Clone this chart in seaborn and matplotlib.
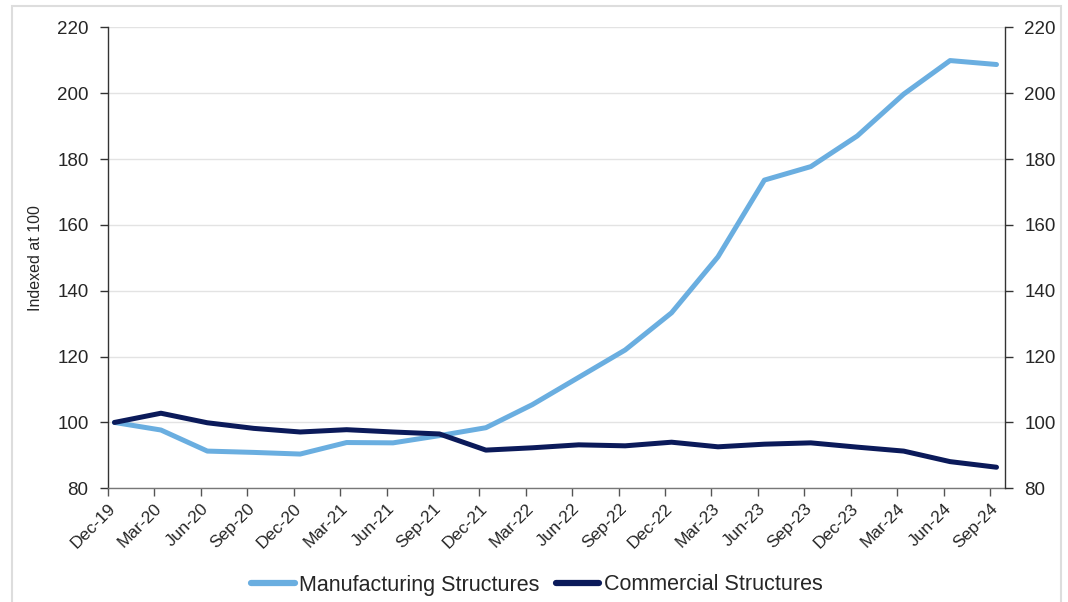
import numpy as np
import pandas as pd
import matplotlib
matplotlib.use("Agg")
import matplotlib.pyplot as plt
import matplotlib.patches as mpatches
import matplotlib.transforms as mtransforms
import seaborn as sns

quarters = ["Dec-19", "Mar-20", "Jun-20", "Sep-20", "Dec-20", "Mar-21", "Jun-21", "Sep-21",
            "Dec-21", "Mar-22", "Jun-22", "Sep-22", "Dec-22", "Mar-23", "Jun-23", "Sep-23",
            "Dec-23", "Mar-24", "Jun-24", "Sep-24"]
manufacturing = [100.0, 97.7, 91.3, 90.9, 90.4, 93.9, 93.8, 96.0, 98.4, 105.4,
                 113.7, 122.0, 133.3, 150.3, 173.6, 177.7, 187.0, 199.7, 209.9, 208.7]
commercial = [100.0, 102.8, 99.9, 98.2, 97.1, 97.8, 97.1, 96.5, 91.6, 92.3,
              93.2, 92.9, 94.0, 92.6, 93.4, 93.8, 92.5, 91.3, 88.1, 86.4]
series_names = ["Manufacturing Structures", "Commercial Structures"]
y_ticks = [80, 100, 120, 140, 160, 180, 200, 220]

colors = {"Manufacturing Structures": "#6aaee0", "Commercial Structures": "#0b1a5a"}

sns.set_theme(style="white")
plt.rcParams['font.family'] = ['Liberation Sans', 'DejaVu Sans']

n = len(quarters)
offset = 0.14
df = pd.DataFrame({
    "x": list(np.arange(n) + offset) * 2,
    "value": manufacturing + commercial,
    "series": [series_names[0]] * n + [series_names[1]] * n,
})

fig = plt.figure(figsize=(10.68, 6.02), dpi=100)
ax = fig.add_axes([108 / 1068, 1 - 488.3 / 602, (1005 - 108) / 1068, (488.3 - 27.3) / 602])

sns.lineplot(data=df, x="x", y="value", hue="series", palette=colors, linewidth=3.6,
             ax=ax, legend=False, solid_capstyle="round")

ax2 = ax.twinx()

xmax = (n - 1) * (1005 - 108) / (990 - 108)
ax.set_xlim(0, xmax)
ax.set_ylim(80, 220)
ax.set_yticks(y_ticks)
ax.set_xticks(np.arange(n))
ax.set_xticklabels(quarters, rotation=45, ha="right", rotation_mode="anchor", fontsize=12.5)
shift = mtransforms.ScaledTranslation(12 / 100, 0, fig.dpi_scale_trans)
for lbl in ax.get_xticklabels():
    lbl.set_transform(lbl.get_transform() + shift)
ax.tick_params(axis="x", length=6, width=1, color="#555555", pad=3, direction="out", bottom=True)
ax.tick_params(axis="y", labelsize=13.5, length=6, width=1, color="#333333", left=True, pad=8)
ax.grid(axis="y", color="#e3e3e3", linewidth=1)
ax.set_axisbelow(True)
ax.set_xlabel("")
ax.set_ylabel("Indexed at 100", fontsize=11.5, labelpad=10)
for s in ["top", "right"]:
    ax.spines[s].set_visible(False)
ax.spines["left"].set_color("#333333")
ax.spines["bottom"].set_color("#777777")
ax.spines["left"].set_linewidth(1)
ax.spines["bottom"].set_linewidth(1)

ax2.set_xlim(0, xmax)
ax2.set_ylim(80, 220)
ax2.set_yticks(y_ticks)
ax2.tick_params(axis="y", labelsize=13.5, length=6, width=1, color="#333333", right=True, pad=8)
for s in ["top", "left", "bottom"]:
    ax2.spines[s].set_visible(False)
ax2.spines["right"].set_color("#333333")
ax2.spines["right"].set_linewidth(1)
ax2.grid(False)

handles = [plt.Line2D([0], [0], color=colors[s], linewidth=4.5) for s in series_names]
fig.legend(handles, series_names, loc="center", bbox_to_anchor=(537 / 1068, 1 - 585 / 602),
           ncol=2, frameon=False, fontsize=15.5, handlelength=2.0, handletextpad=0.2,
           columnspacing=0.8)

rect = mpatches.Rectangle((12 / 1068, -0.05), (1061 - 12) / 1068, 1.05 - 6 / 602,
                          transform=fig.transFigure, fill=False, edgecolor="#dddddd",
                          linewidth=1.5, zorder=0)
fig.patches.append(rect)

fig.savefig("out.png", dpi=100)
